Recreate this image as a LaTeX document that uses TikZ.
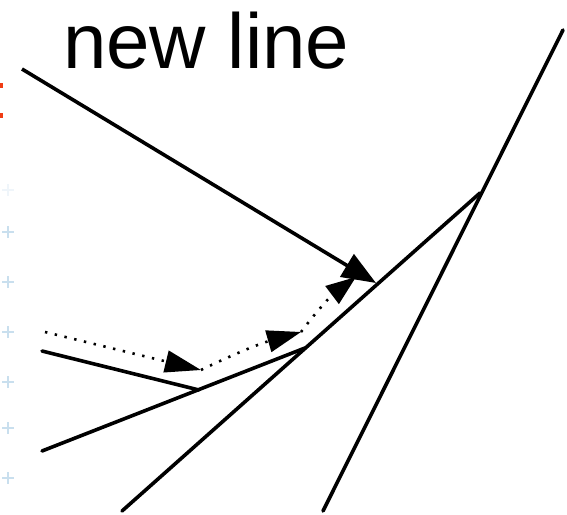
\documentclass[tikz,border=0pt]{standalone}
\usepackage{fontspec}
\setmainfont{Liberation Sans}
\usetikzlibrary{arrows.meta}
\definecolor{faintblue}{HTML}{C9DFEE}
\definecolor{slidered}{HTML}{F03C14}
\tikzset{
  edge/.style={line width=3.6pt, line cap=round},
  bigtip/.style={-{Triangle[length=34pt,width=26pt]}},
  dotpath/.style={line width=2.6pt, dash pattern=on 2.4pt off 7.6pt},
  plusmark/.style={faintblue, line width=1.2pt},
}
\begin{document}
\begin{tikzpicture}[x=1pt,y=-1pt]
\useasboundingbox (0,0) rectangle (567,514);
% title
\node[anchor=base west, inner sep=0pt, font=\fontsize{78}{80}\selectfont] (title) at (63,68) {new line};
% coordinates
\coordinate (A) at (122,511);
\coordinate (B) at (323,511);
\coordinate (C) at (563,30);
\coordinate (J) at (480,193);
\coordinate (L1) at (42,451);
\coordinate (L2) at (42,351);
\coordinate (K) at (305,348);
\coordinate (M) at (199,390);
\coordinate (N0) at (22,69);
\coordinate (N1) at (376,283);
\coordinate (D0) at (45,332);
\coordinate (D1) at (201,370);
\coordinate (D2) at (301,332);
\coordinate (D3) at (356,277);
% lines
\draw[edge] (B) -- (C);
\draw[edge] (A) -- (J);
\draw[edge] (L1) -- (K);
\draw[edge] (L2) -- (M);
\draw[edge, line cap=butt, bigtip] (N0) -- (N1);
% dotted path
\draw[dotpath, -{Triangle[length=36pt,width=22pt]}] (D0) -- (D1);
\draw[dotpath, -{Triangle[length=34pt,width=22pt]}] (D1) to[bend left=5] (D2);
\draw[dotpath, -{Triangle[length=30pt,width=22pt]}] (D2) to[bend left=8] (D3);
% edge fragments
\fill[slidered] (0,83) rectangle (3,88);
\fill[slidered] (0,113) rectangle (3,118);
\foreach \yy in {232,282,332,382,428,478} {
  \draw[plusmark] (2,\yy) -- (14,\yy) (8,\yy-6) -- (8,\yy+6);
}
\draw[plusmark, opacity=0.3] (2,190) -- (14,190) (8,184) -- (8,196);
\end{tikzpicture}
\end{document}
